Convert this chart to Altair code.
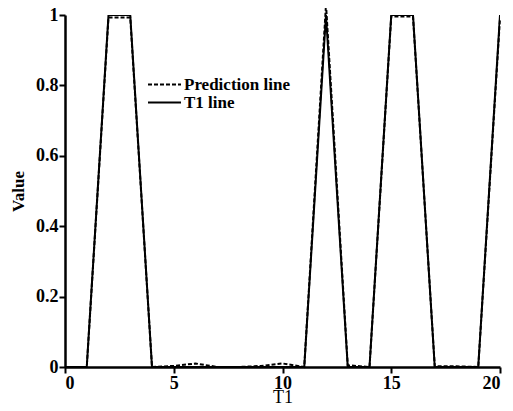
import altair as alt
import pandas as pd

x_vals = list(range(0, 21))
t1_vals = [0, 0, 1, 1, 0, 0, 0, 0, 0, 0, 0, 0, 1, 0, 0, 1, 1, 0, 0, 0, 1]
pred_vals = [0, 0, 0.993, 0.993, 0, 0.003, 0.01, 0, 0, 0.003, 0.01, 0, 1.03, 0.005, 0, 0.996, 0.996, 0.002, 0.002, 0, 0.99]
series_names = ["Prediction line", "T1 line"]

df_t1 = pd.DataFrame({"T1": x_vals, "Value": t1_vals, "series": "T1 line"})
df_pred = pd.DataFrame({"T1": x_vals, "Value": pred_vals, "series": "Prediction line"})

font = "Liberation Serif"

x_enc = alt.X("T1:Q", scale=alt.Scale(domain=[0, 20], nice=False),
              axis=alt.Axis(values=[0, 5, 10, 15, 20], title="T1", grid=False))
y_enc = alt.Y("Value:Q", scale=alt.Scale(domain=[0, 1], nice=False),
              axis=alt.Axis(values=[0, 0.2, 0.4, 0.6, 0.8, 1], title="Value", grid=False,
                            labelExpr="datum.value == 0 ? '0' : datum.value == 1 ? '1' : format(datum.value, '.1f')"))
dash_enc = alt.StrokeDash("series:N",
                          scale=alt.Scale(domain=series_names, range=[[4, 2], [1, 0]]),
                          legend=alt.Legend(title=None, orient="none", legendX=91, legendY=61,
                                            symbolType="M-2.2,0H2.2", symbolSize=225,
                                            symbolStrokeWidth=2, symbolStrokeColor="black",
                                            symbolFillColor="transparent",
                                            labelFont=font, labelFontSize=17, labelColor="black",
                                            labelFontWeight="bold",
                                            rowPadding=0, labelOffset=11))

t1_layer = alt.Chart(df_t1).mark_line(strokeWidth=2, color="black", clip=True).encode(
    x=x_enc, y=y_enc, strokeDash=dash_enc)
pred_layer = alt.Chart(df_pred).mark_line(strokeWidth=2, color="black", clip=False).encode(
    x=x_enc, y=y_enc, strokeDash=dash_enc)

chart = alt.layer(t1_layer, pred_layer).properties(
    width=435, height=352,
    autosize=alt.AutoSizeParams(type="none"),
    padding={"left": 57, "top": 7, "right": 5, "bottom": 36},
).configure_view(stroke=None).configure_axis(
    domainColor="black", domainWidth=2.5, tickColor="black", tickWidth=2, tickSize=6,
    labelFont=font, labelFontSize=18, labelColor="black", labelFontWeight="bold",
    titleFont=font, titleFontSize=17, titleColor="black", titleFontWeight="bold",
    labelPadding=1,
).configure_axisY(titlePadding=8).configure_axisX(titlePadding=-4, titleFontWeight="normal", titleFontSize=18)

chart.save("out.html", embed_options={"renderer": "svg", "actions": False})
